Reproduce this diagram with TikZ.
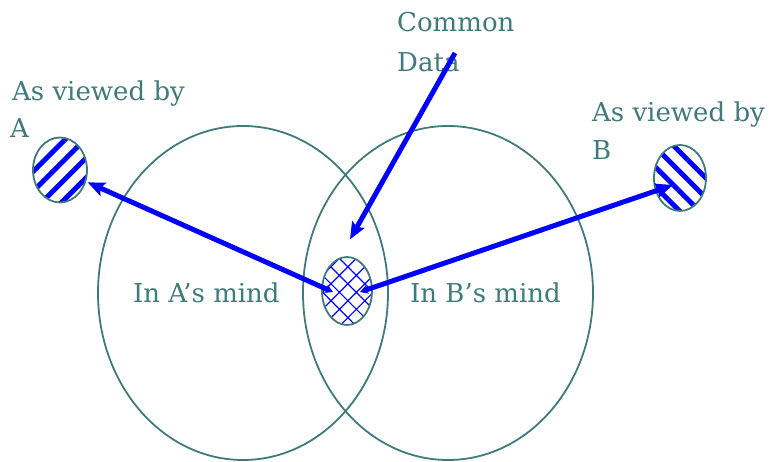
\documentclass[tikz,border=0pt]{standalone}
\usepackage{fontspec}
\setmainfont{DejaVu Serif}
\usetikzlibrary{shapes.geometric,arrows.meta,patterns.meta}
\definecolor{tealline}{RGB}{64,122,122}
\definecolor{arrblue}{RGB}{0,0,255}
\begin{document}
\begin{tikzpicture}[x=1pt,y=-1pt,
  lbl/.style={font=\fontsize{26}{26}\selectfont, text=tealline, anchor=base west, inner sep=0pt},
  mindcircle/.style={draw=tealline, line width=1.8pt, ellipse, minimum width=290pt, minimum height=334pt, inner sep=0pt},
  smallview/.style={draw=tealline, line width=1.8pt, ellipse, minimum width=54pt, minimum height=65pt, inner sep=0pt},
  commonblob/.style={draw=tealline, line width=1.8pt, ellipse, minimum width=50pt, minimum height=68pt, inner sep=0pt,
     pattern={Hatch[angle=45,distance=12pt,line width=1.2pt]}, pattern color=arrblue},
  arrowline/.style={draw=arrblue, line width=5pt},
  bigtip/.style={-{Stealth[length=17pt,width=14pt,inset=3pt]}},
]
\useasboundingbox (0,0) rectangle (769,462);

\node[mindcircle] (ma) at (243,293) {};
\node[mindcircle] (mb) at (448,293) {};
\node[commonblob] (mid) at (347,291) {};
\node[smallview, pattern={Lines[angle=45,distance=14pt,line width=5pt]}, pattern color=arrblue] (va) at (60,170) {};
\node[smallview, minimum width=52pt, minimum height=66pt, pattern={Lines[angle=-45,distance=14pt,line width=5pt]}, pattern color=arrblue] (vb) at (680,178) {};

\node[lbl] (t1) at (397,32) {Common};
\node[lbl] (t2) at (397,72) {Data};
\node[lbl] (t3) at (12,101) {As viewed by};
\node[lbl] (t4) at (10,138) {A};
\node[lbl] (t5) at (592,122) {As viewed by};
\node[lbl] (t6) at (592,160) {B};
\node[lbl] (t7) at (133,303) {In A’s mind};
\node[lbl] (t8) at (410,303) {In B’s mind};

\coordinate (hubL) at (333,292);
\coordinate (hubR) at (360,292);
\coordinate (cd) at (455,53);

\draw[arrowline, {Stealth[length=8pt,width=9pt]}-{Stealth[length=17pt,width=14pt,inset=3pt]}] (hubL) -- (va);
\draw[arrowline, {Stealth[length=8pt,width=9pt]}-{Stealth[length=17pt,width=14pt,inset=3pt]}] (hubR) -- ([shift={(-7,7)}]vb.center);
\draw[arrowline, bigtip] (cd) -- ([shift={(3,-17)}]mid.north);
\end{tikzpicture}
\end{document}
